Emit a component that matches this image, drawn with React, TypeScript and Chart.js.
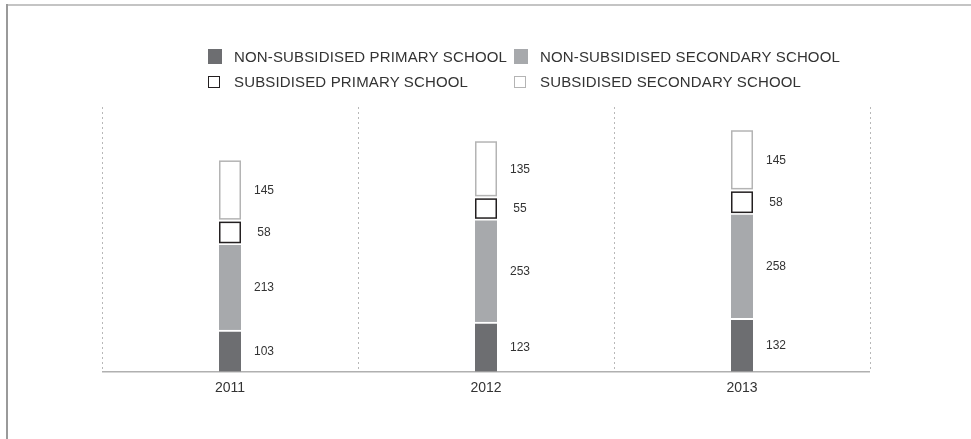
import React, { useEffect, useRef } from "react";
import { Chart, registerables } from "chart.js";

Chart.register(...registerables);

// ---- data ----
const years = ["2011", "2012", "2013"];
const nonSubPrimary = [103, 123, 132];
const nonSubSecondary = [213, 253, 258];
const subPrimary = [58, 55, 58];
const subSecondary = [145, 135, 145];
const seriesNames = [
  "NON-SUBSIDISED PRIMARY SCHOOL",
  "NON-SUBSIDISED SECONDARY SCHOOL",
  "SUBSIDISED PRIMARY SCHOOL",
  "SUBSIDISED SECONDARY SCHOOL",
];
const yMax = 650;

const FONT = "'Liberation Sans', Arial, Helvetica, sans-serif";
const DARK = "#6d6e71";
const GREY = "#a7a9ac";
const OUTLINE_DARK = "#231f20";
const OUTLINE_LIGHT = "#b4b4b4";

const segmentPlugin = {
  id: "segmentsAndLabels",
  afterDatasetsDraw(chart: any) {
    const ctx = chart.ctx;
    chart.data.datasets.forEach((ds: any, i: number) => {
      const meta = chart.getDatasetMeta(i);
      meta.data.forEach((el: any, j: number) => {
        const { x, y, base, width } = el.getProps(["x", "y", "base", "width"], true);
        const top = Math.min(y, base);
        const bottom = Math.max(y, base);
        if (ds.outlineColor) {
          const lw = 1.5;
          const gapTop = ds.gapTop || 0;
          ctx.save();
          ctx.strokeStyle = ds.outlineColor;
          ctx.lineWidth = lw;
          ctx.strokeRect(
            x - width / 2 + lw / 2,
            top + gapTop + lw / 2,
            width - lw,
            bottom - top - gapTop - lw
          );
          ctx.restore();
        }
        ctx.save();
        ctx.fillStyle = "#333";
        ctx.font = "12px " + FONT;
        ctx.textAlign = "center";
        ctx.textBaseline = "middle";
        ctx.fillText(String(ds.data[j]), x + 34, (top + bottom) / 2 + 1);
        ctx.restore();
      });
    });
  },
};

const legendItems = [
  { label: seriesNames[0], left: 208, top: 49, w: 14, h: 15, bg: DARK, border: "none" },
  { label: seriesNames[1], left: 514, top: 49, w: 14, h: 15, bg: GREY, border: "none" },
  { label: seriesNames[2], left: 208, top: 76, w: 12, h: 12, bg: "#fff", border: "1.5px solid " + OUTLINE_DARK },
  { label: seriesNames[3], left: 514, top: 76, w: 12, h: 12, bg: "#fff", border: "1.5px solid " + OUTLINE_LIGHT },
];

export default function App() {
  const canvasRef = useRef<HTMLCanvasElement | null>(null);

  useEffect(() => {
    if (!canvasRef.current) return;
    const chart = new Chart(canvasRef.current, {
      type: "bar",
      data: {
        labels: years,
        datasets: [
          {
            label: seriesNames[0],
            data: nonSubPrimary,
            backgroundColor: DARK,
            borderColor: "#fff",
            borderWidth: { top: 2, bottom: 0, left: 0, right: 0 },
            barThickness: 22,
          },
          {
            label: seriesNames[1],
            data: nonSubSecondary,
            backgroundColor: GREY,
            borderColor: "#fff",
            borderWidth: { top: 2, bottom: 0, left: 0, right: 0 },
            barThickness: 22,
          },
          {
            label: seriesNames[2],
            data: subPrimary,
            backgroundColor: "#fff",
            borderWidth: 0,
            barThickness: 22,
            outlineColor: OUTLINE_DARK,
            gapTop: 2,
          } as any,
          {
            label: seriesNames[3],
            data: subSecondary,
            backgroundColor: "#fff",
            borderWidth: 0,
            barThickness: 22,
            outlineColor: OUTLINE_LIGHT,
            gapTop: 0,
          } as any,
        ],
      },
      options: {
        animation: false,
        responsive: false,
        maintainAspectRatio: false,
        layout: { padding: { left: 102, right: 101, top: 107, bottom: 34 } },
        plugins: {
          legend: { display: false },
          tooltip: { enabled: false },
        },
        scales: {
          x: {
            stacked: true,
            grid: {
              display: true,
              offset: true,
              drawTicks: false,
              color: "#b8b8b8",
              lineWidth: 1,
            },
            border: { display: false, dash: [2, 3] },
            ticks: {
              padding: 8,
              color: "#333",
              font: { family: FONT, size: 14 },
            },
          },
          y: {
            stacked: true,
            min: 0,
            max: yMax,
            ticks: { display: false, stepSize: 650 },
            grid: {
              drawTicks: false,
              color: (c: any) => (c.tick && c.tick.value === 0 ? "#b0b0b0" : "rgba(0,0,0,0)"),
              lineWidth: 1.5,
            },
            border: { display: false },
          },
        },
      },
      plugins: [segmentPlugin],
    } as any);
    return () => chart.destroy();
  }, []);

  return (
    <div style={{ position: "fixed", left: 0, top: 0, width: 971, height: 439, background: "#fff", overflow: "hidden" }}>
      <div style={{ position: "absolute", left: 6, top: 4, right: 0, height: 2, background: "#c4c4c4" }} />
      <div style={{ position: "absolute", left: 6, top: 4, bottom: 0, width: 1.5, background: "#9a9a9a" }} />
      <canvas
        ref={canvasRef}
        width={971}
        height={439}
        style={{ position: "absolute", left: 0, top: 0, width: 971, height: 439 }}
      />
      {legendItems.map((it) => (
        <React.Fragment key={it.label}>
          <div
            style={{
              position: "absolute",
              left: it.left,
              top: it.top,
              width: it.w,
              height: it.h,
              background: it.bg,
              border: it.border,
              boxSizing: "border-box",
            }}
          />
          <div
            style={{
              position: "absolute",
              left: it.left + 26,
              top: it.top + it.h / 2 - 9,
              height: 18,
              lineHeight: "18px",
              fontFamily: FONT,
              fontSize: 15,
              color: "#333",
              whiteSpace: "nowrap",
              letterSpacing: 0.15,
            }}
          >
            {it.label}
          </div>
        </React.Fragment>
      ))}
    </div>
  );
}
